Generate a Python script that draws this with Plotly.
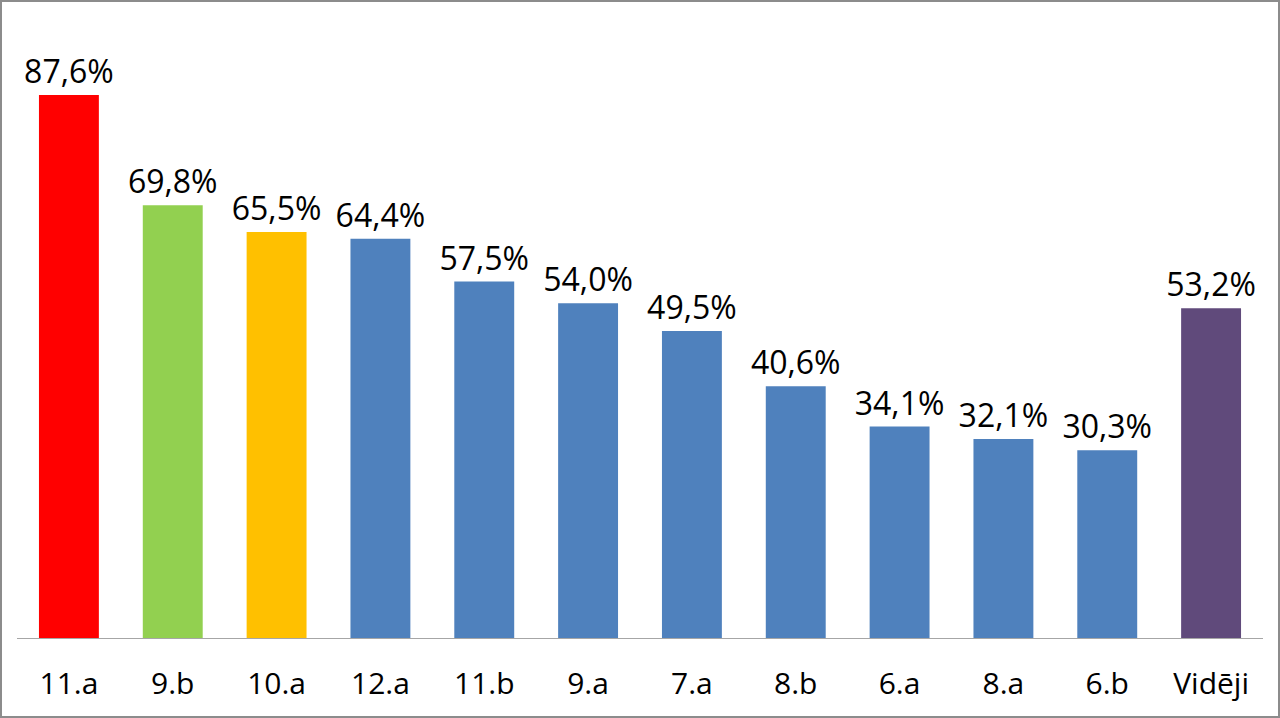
import plotly.graph_objects as go

categories = ["11.a", "9.b", "10.a", "12.a", "11.b", "9.a", "7.a", "8.b", "6.a", "8.a", "6.b", "Vidēji"]
values = [87.6, 69.8, 65.5, 64.4, 57.5, 54.0, 49.5, 40.6, 34.1, 32.1, 30.3, 53.2]
colors = ["#FF0000", "#92D050", "#FFC000"] + ["#4F81BD"] * 8 + ["#604A7B"]
labels = [f"{v:.1f}%".replace(".", ",") for v in values]

FONT = "Open Sans"

fig = go.Figure(go.Bar(
    x=categories, y=values,
    marker=dict(color=colors, line=dict(width=0)),
    text=labels, textposition="outside", cliponaxis=False,
    constraintext="none",
    textfont=dict(family=FONT, size=32, color="#000000"),
    width=0.577,
))

fig.update_layout(
    width=1280, height=718,
    margin=dict(l=17, r=17, t=18, b=80),
    paper_bgcolor="white", plot_bgcolor="white",
    showlegend=False,
    font=dict(family=FONT, size=30, color="#000000"),
    xaxis=dict(showgrid=False, showline=True, linecolor="#A6A6A6", linewidth=1,
               ticks="", tickfont=dict(family=FONT, size=30, color="#000000"),
               ticklabelstandoff=19),
    yaxis=dict(range=[0, 100], visible=False, showgrid=False, zeroline=False),
)
W = 1280 - 34
fig.add_shape(type="rect", xref="paper", yref="paper",
              x0=-16/W, x1=1+16/W, y0=-79/620, y1=1+17/620,
              line=dict(color="#8C8C8C", width=2), layer="above")

fig.write_html("out.html", config={"displayModeBar": False},
               post_script="document.body.style.margin='0';")
